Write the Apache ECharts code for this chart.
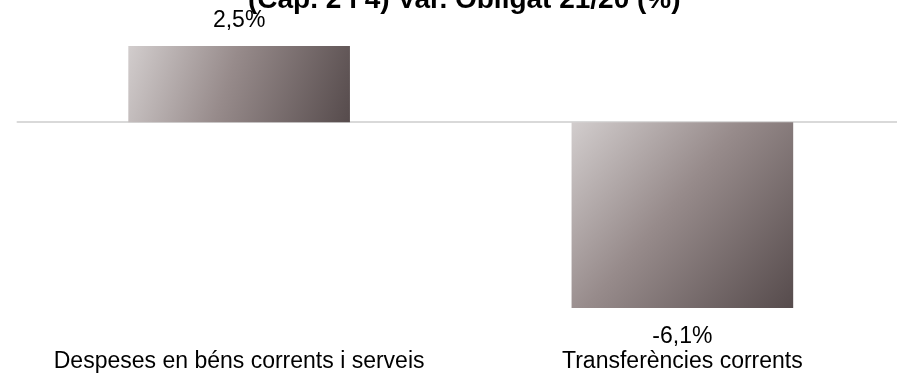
<!DOCTYPE html>
<html>
<head>
<meta charset="utf-8">
<script src="https://cdn.jsdelivr.net/npm/echarts@6/dist/echarts.min.js"></script>
<style>html,body{margin:0;padding:0;background:#fff;overflow:hidden;width:897px;height:375px;}#c{width:904px;height:375px;}</style>
</head>
<body>
<div id="c"></div>
<script>
const titleText = "(Cap. 2 i 4) Var. Obligat 21/20 (%)";
const categories = ["Despeses en béns corrents i serveis", "Transferències corrents"];
const values = [2.5, -6.1];

const chart = echarts.init(document.getElementById('c'), null, {renderer: 'canvas'});
const grad = new echarts.graphic.LinearGradient(0, 0, 1, 1, [
  {offset: 0, color: '#d2cdcd'},
  {offset: 0.45, color: '#978b8b'},
  {offset: 1, color: '#564b4c'}
]);
const fmt = v => v.toFixed(1).replace('.', ',') + '%';
const FONT = 'Liberation Sans, Arial';
chart.setOption({
  animation: false,
  backgroundColor: '#fff',
  title: {
    text: titleText,
    left: 243,
    top: -19,
    textStyle: {fontFamily: FONT, fontSize: 28, fontWeight: 'bold', color: '#000'}
  },
  grid: {left: 17.5, right: 0, top: 46, bottom: 67, containLabel: false},
  xAxis: [{
    type: 'category',
    data: categories,
    axisLine: {onZero: true, lineStyle: {color: '#d9d9d9', width: 2}},
    axisTick: {show: false},
    axisLabel: {show: false}
  }, {
    type: 'category',
    data: categories,
    position: 'bottom',
    axisLine: {show: false, onZero: false},
    axisTick: {show: false},
    axisLabel: {interval: 0, margin: 42, fontFamily: FONT, fontSize: 23, color: '#000'}
  }],
  yAxis: {type: 'value', min: -6.1, max: 2.5, show: false, splitLine: {show: false}},
  series: [{
    type: 'bar',
    xAxisIndex: 0,
    barWidth: '50%',
    data: values.map(v => ({
      value: v,
      label: {
        show: true,
        position: v >= 0 ? 'top' : 'bottom',
        distance: v >= 0 ? 14 : 17,
        formatter: p => fmt(p.value),
        fontFamily: FONT,
        fontSize: 23,
        color: '#000'
      }
    })),
    itemStyle: {color: grad}
  }]
});
</script>
</body>
</html>
